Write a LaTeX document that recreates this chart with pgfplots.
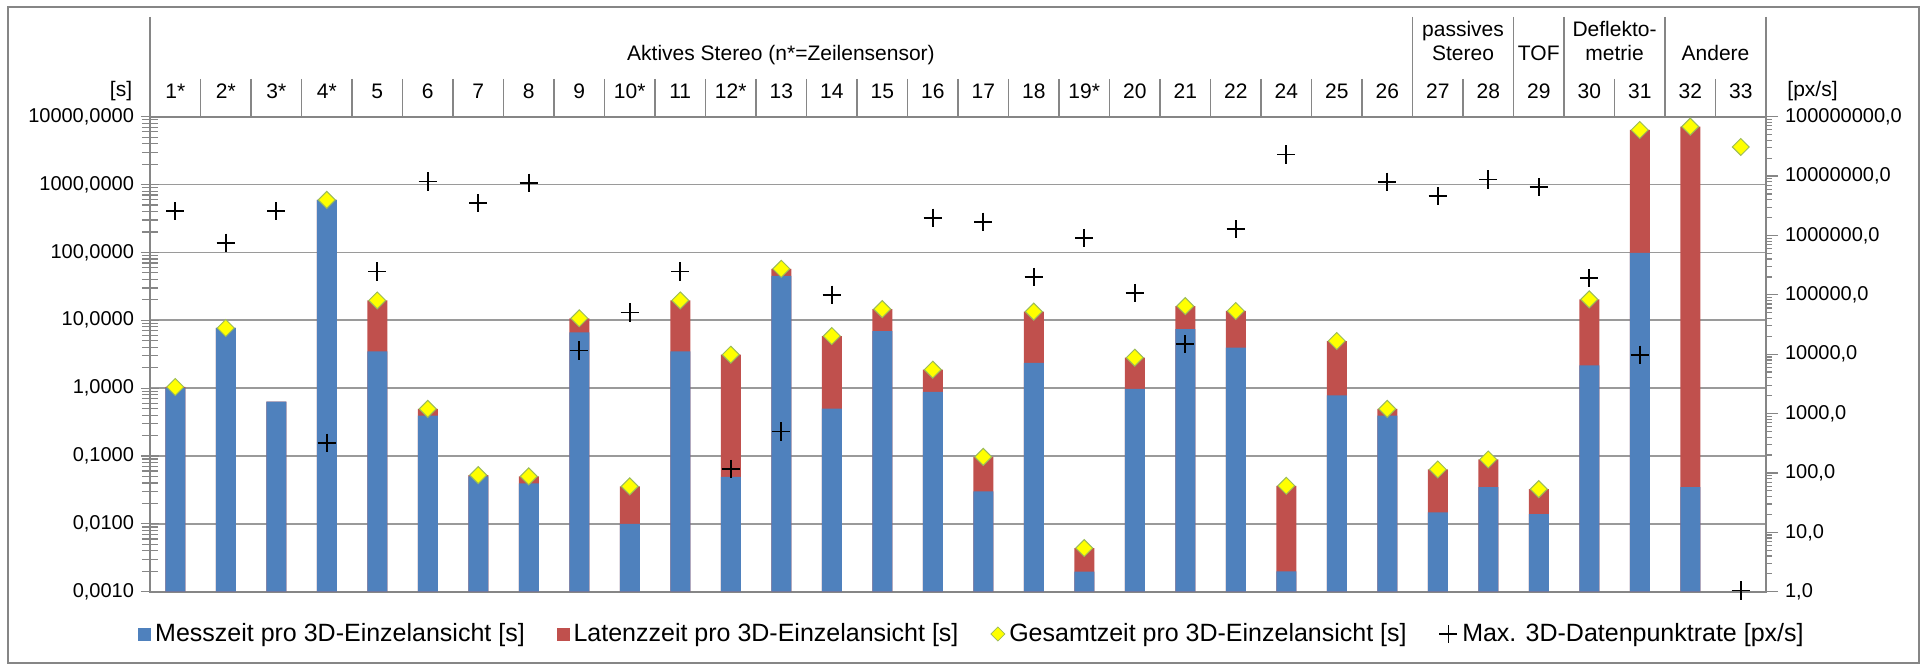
\documentclass[border=0pt]{standalone}
\usepackage{fontspec}
\setmainfont{Liberation Sans}
\usepackage{pgfplots}
\usepackage{pgfplotstable}
\pgfplotsset{compat=1.18}
\definecolor{cblue}{HTML}{4F81BD}
\definecolor{cred}{HTML}{C0504D}
\definecolor{cyel}{HTML}{FFFF00}
\definecolor{cdia}{HTML}{9BBB59}
\definecolor{cgrid}{HTML}{9A9A9A}
\definecolor{caxis}{HTML}{868686}
\newcommand{\lblfont}{\fontsize{10.5}{12}\selectfont}
\newcommand{\tickfont}{\fontsize{10}{12}\selectfont}

% x = category index, mess = Messzeit, top = Messzeit+Latenzzeit, ges = Gesamtzeit, rate = max. Datenpunktrate
\pgfplotstableread{
x mess top ges rate
0 1.0 1.04 1.04 2.56e6
1 7.7 7.7 7.7 7.5e5
2 0.634 0.634 nan 2.56e6
3 594 594 594 321
4 3.49 19.6 19.6 2.48e5
5 0.394 0.494 0.494 8.07e6
6 0.0499 0.0523 0.0523 3.49e6
7 0.0394 0.05 0.05 7.67e6
8 6.64 10.7 10.7 1.16e4
9 0.01 0.0356 0.0356 5.06e4
10 3.49 19.6 19.6 2.48e5
11 0.0493 3.11 3.11 116
12 45.3 57.4 57.4 498
13 0.5 5.86 5.86 1.0e5
14 6.95 14.6 14.6 nan
15 0.88 1.87 1.87 1.98e6
16 0.0301 0.0972 0.0972 1.69e6
17 2.35 13.4 13.4 1.99e5
18 0.00198 0.0044 0.0044 9.0e5
19 0.973 2.81 2.81 1.07e5
20 7.43 16.2 16.2 1.47e4
21 3.95 13.7 13.7 1.27e6
22 0.002 0.0364 0.0364 2.3e7
23 0.785 4.95 4.95 nan
24 0.394 0.494 0.494 7.97e6
25 0.01475 0.0633 0.0633 4.57e6
26 0.0348 0.0888 0.0888 8.73e6
27 0.0139 0.0325 0.0325 6.48e6
28 2.17 20.3 20.3 1.91e5
29 98.7 6370 6370 9.8e3
30 0.0348 7130 7130 nan
31 nan nan 3580 1.05
}\data

\begin{document}
\begin{tikzpicture}
\path[use as bounding box] (0pt,0pt) rectangle (963.5pt,332.5pt);
\begin{scope}[x=0.5pt,y=-0.5pt,shift={(0pt,332.5pt)}]
\draw[caxis, line width=0.8pt] (8,7) rectangle (1919,663);
\end{scope}

\begin{axis}[
  at={(75pt,36.65pt)}, anchor=south west, scale only axis,
  width=808pt, height=237.5pt,
  xmin=-0.5, xmax=31.5, enlargelimits=false,
  ymode=log, ymin=1e-3, ymax=1e4, log origin=infty,
  xtick=\empty,
  ytick={1e-3,1e-2,1e-1,1,10,100,1000,10000},
  yticklabels={{0,0010},{0,0100},{0,1000},{1,0000},{10,0000},{100,0000},{1000,0000},{10000,0000}},
  minor ytick={2e-3,3e-3,4e-3,5e-3,6e-3,7e-3,8e-3,9e-3,2e-2,3e-2,4e-2,5e-2,6e-2,7e-2,8e-2,9e-2,0.2,0.3,0.4,0.5,0.6,0.7,0.8,0.9,2,3,4,5,6,7,8,9,20,30,40,50,60,70,80,90,200,300,400,500,600,700,800,900,2000,3000,4000,5000,6000,7000,8000,9000},
  ytick pos=left, tick align=center,
  major tick length=9pt, minor tick length=8pt,
  every tick/.style={caxis, line width=0.6pt},
  ymajorgrids, major grid style={cgrid, line width=0.85pt},
  axis line style={caxis, line width=1pt},
  yticklabel style={font=\tickfont, text=black},
  legend style={draw=none, fill=none, at={(0.5093,-0.089)}, anchor=center,
    legend columns=4, font=\fontsize{12.5}{15}\selectfont,
    /tikz/every even column/.append style={column sep=14pt}},
]
\addplot[ybar, bar width=10pt, bar shift=0pt, fill=cred, draw=none, forget plot] table[x=x,y=top] {\data};
\addplot[ybar, bar width=10pt, bar shift=0pt, fill=cblue, draw=none, forget plot] table[x=x,y=mess] {\data};
\addplot[only marks, mark=square*, mark size=3pt, mark options={rotate=45, fill=cyel, draw=cdia, line width=0.5pt}, forget plot] table[x=x,y=ges] {\data};
\addlegendimage{legend image code/.code={\fill[cblue] (0pt,-3pt) rectangle (6pt,3pt);}}
\addlegendentry{Messzeit pro 3D-Einzelansicht [s]}
\addlegendimage{legend image code/.code={\fill[cred] (0pt,-3pt) rectangle (6pt,3pt);}}
\addlegendentry{Latenzzeit pro 3D-Einzelansicht [s]}
\addlegendimage{legend image code/.code={\draw[cdia, fill=cyel, line width=0.4pt] (0pt,0pt) -- (3.5pt,3.5pt) -- (7pt,0pt) -- (3.5pt,-3.5pt) -- cycle;}}
\addlegendentry{Gesamtzeit pro 3D-Einzelansicht [s]}
\addlegendimage{legend image code/.code={\draw[black, line width=0.8pt] (0pt,0pt) -- (9pt,0pt) (4.5pt,-4.5pt) -- (4.5pt,4.5pt);}}
\addlegendentry{Max. 3D-Datenpunktrate [px/s]}
\end{axis}

\begin{axis}[
  at={(75pt,36.65pt)}, anchor=south west, scale only axis,
  width=808pt, height=237.5pt,
  xmin=-0.5, xmax=31.5, enlargelimits=false,
  ymode=log, ymin=1, ymax=1e8,
  axis x line=none, axis y line*=right,
  ytick={1,10,100,1000,10000,100000,1000000,10000000,100000000},
  yticklabels={{1,0},{10,0},{100,0},{1000,0},{10000,0},{100000,0},{1000000,0},{10000000,0},{100000000,0}},
  ytick pos=right, tick align=outside, major tick length=6pt,
  every tick/.style={caxis, line width=0.6pt},
  axis line style={caxis, line width=1pt},
  yticklabel style={font=\tickfont, text=black},
  clip=false,
]
\addplot[only marks, mark=+, mark size=4.6pt, mark options={black, line width=0.8pt}] table[x=x,y=rate] {\data};
\end{axis}

\begin{scope}[x=0.5pt,y=-0.5pt,shift={(0pt,332.5pt)}]
\foreach \k in {1,...,31} \draw[caxis, line width=0.7pt] ({150+\k*50.5},79) -- ({150+\k*50.5},116.7);
\foreach \k in {0,25,27,28,30,32} \draw[caxis, line width=0.8pt] ({150+\k*50.5},17) -- ({150+\k*50.5},116.7);
\foreach \l [count=\i from 0] in {1*,2*,3*,4*,5,6,7,8,9,10*,11,12*,13,14,15,16,17,18,19*,20,21,22,24,25,26,27,28,29,30,31,32,33}
  \node[font=\lblfont, anchor=base] at ({150+(\i+0.5)*50.5},99) {\l};
\node[font=\lblfont, anchor=base] at (781,61) {Aktives Stereo (n*=Zeilensensor)};
\node[font=\lblfont, anchor=base] at (1463,37) {passives};
\node[font=\lblfont, anchor=base] at (1463,61) {Stereo};
\node[font=\lblfont, anchor=base] at (1538.75,61) {TOF};
\node[font=\lblfont, anchor=base] at (1614.5,37) {Deflekto-};
\node[font=\lblfont, anchor=base] at (1614.5,61) {metrie};
\node[font=\lblfont, anchor=base] at (1715.5,61) {Andere};
\node[font=\lblfont, anchor=base] at (121,97) {[s]};
\node[font=\lblfont, anchor=base west, inner sep=0pt] at (1787,97) {[px/s]};
\end{scope}
\end{tikzpicture}
\end{document}
